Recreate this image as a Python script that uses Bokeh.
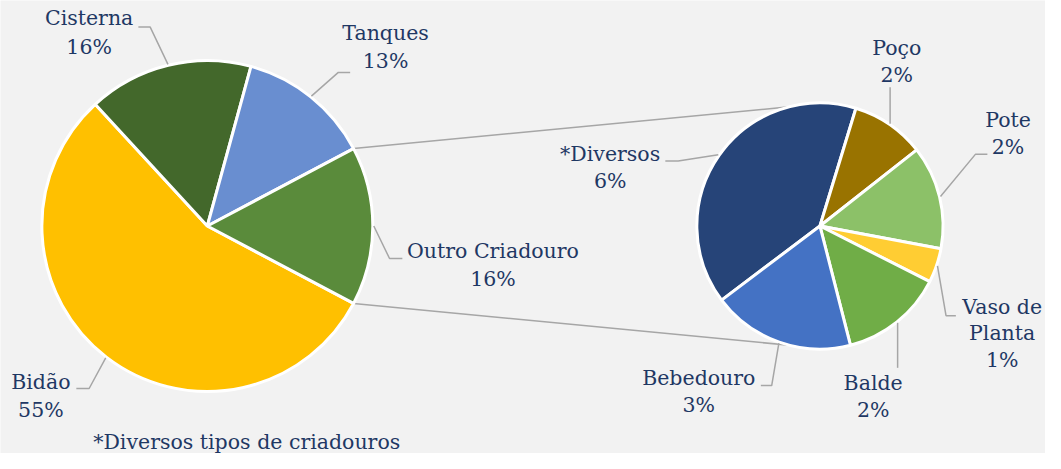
import math
from bokeh.plotting import figure
from bokeh.models import Range1d, ColumnDataSource
from bokeh.embed import file_html
from bokeh.resources import INLINE
from bokeh.core.properties import value

# ---------------- data ----------------
primary_labels = ["Bidão", "Cisterna", "Tanques", "Outro Criadouro"]
primary_values = [55.4, 16.1, 13.0, 15.5]
primary_colors = ["#ffc000", "#43682b", "#698ed0", "#5a8b3b"]

secondary_labels = ["*Diversos", "Poço", "Pote", "Vaso de Planta", "Balde", "Bebedouro"]
secondary_values = [6.2, 1.5, 2.1, 0.7, 2.1, 2.9]
secondary_colors = ["#264478", "#997300", "#8cc168", "#ffcd33", "#70ad47", "#4472c4"]

footnote = "*Diversos tipos de criadouros"

# ---------------- layout (reference pixel coordinates) ----------------
IMG_H = 469
FONT = "DejaVu Serif"
FS = "20.5px"
TXT = "#1f3864"
LEADER = "#a6a6a6"

L_CX, L_CY, L_R = 210, 238, 168
R_CX, R_CY, R_R = 832, 238, 125
R_START = 217.0          # secondary pie first-slice start angle (deg)
CONN_ANG = (104.4, 255.6)  # where connector lines meet the secondary pie

# label layout: text center x, line ys, leader elbow points (None x -> vertical)
label_layout = {
    "Bidão": dict(x=41, ys=[396, 425], pts=[(90, 403), (77, 403)]),
    "Cisterna": dict(x=90, ys=[27, 56], pts=[(152, 36), (140, 36)]),
    "Tanques": dict(x=391, ys=[42, 70], pts=[(343, 82), (355, 82)]),
    "Outro Criadouro": dict(x=500, ys=[263, 292], pts=[(395, 271), (408, 271)]),
    "*Diversos": dict(x=619, ys=[165, 192], pts=[(688, 172), (675, 172)]),
    "Poço": dict(x=910, ys=[57, 85], pts=[(None, 97)]),
    "Pote": dict(x=1023, ys=[130, 158], pts=[(990, 165), (1002, 165)]),
    "Vaso de Planta": dict(x=1017, ys=[320, 347, 374], pts=[(960, 329), (970, 329)],
                           lines=["Vaso de", "Planta"]),
    "Balde": dict(x=886, ys=[397, 425], pts=[(None, 382)]),
    "Bebedouro": dict(x=709, ys=[392, 420], pts=[(783, 400), (772, 400)]),
}
FOOT_X, FOOT_Y = 250, 457


def Y(py):
    return IMG_H - py


def slices(vals, a0):
    tot = sum(vals)
    out, cum = [], 0.0
    for v in vals:
        w = v / tot * 360.0
        out.append((a0 - cum - w, a0 - cum))
        cum += w
    return out


p = figure(width=1045, height=453, x_range=Range1d(0, 1061), y_range=Range1d(0, 460),
           x_axis_type=None, y_axis_type=None, toolbar_location=None,
           output_backend="svg", min_border=0)
p.grid.visible = False
p.outline_line_color = None
p.background_fill_color = "#f2f2f2"
p.border_fill_color = "#f2f2f2"

o_share = primary_values[-1] / sum(primary_values) * 360.0
L_START = -o_share / 2.0
lsl = slices(primary_values, L_START)
rsl = slices(secondary_values, R_START)

# connector lines
for la, ra in zip((o_share / 2.0, -o_share / 2.0), CONN_ANG):
    x0 = L_CX + L_R * math.cos(math.radians(la))
    y0 = Y(L_CY) + L_R * math.sin(math.radians(la))
    x1 = R_CX + R_R * math.cos(math.radians(ra))
    y1 = Y(R_CY) + R_R * math.sin(math.radians(ra))
    p.line([x0, x1], [y0, y1], line_color=LEADER, line_width=1.5)

for (cx, cy, r, sl, colors) in ((L_CX, L_CY, L_R, lsl, primary_colors),
                                (R_CX, R_CY, R_R, rsl, secondary_colors)):
    src = ColumnDataSource(dict(
        s=[math.radians(a) for a, b in sl],
        e=[math.radians(b) for a, b in sl],
        c=colors))
    p.wedge(x=cx, y=Y(cy), radius=r, start_angle="s", end_angle="e",
            fill_color="c", line_color="white", line_width=3, source=src)

# labels + leaders
tx, ty, tt = [], [], []
groups = ((L_CX, L_CY, L_R, lsl, primary_labels, primary_values),
          (R_CX, R_CY, R_R, rsl, secondary_labels, secondary_values))
for cx, cy, r, sl, labels, vals in groups:
    for (a, b), lab, v in zip(sl, labels, vals):
        lay = label_layout[lab]
        mid = math.radians((a + b) / 2.0)
        ex = cx + (r + 1) * math.cos(mid)
        ey = Y(cy) + (r + 1) * math.sin(mid)
        xs, ys = [ex], [ey]
        for px, py in lay["pts"]:
            xs.append(ex if px is None else px)
            ys.append(Y(py))
        p.line(xs, ys, line_color=LEADER, line_width=1.5)
        lines = lay.get("lines", [lab]) + [f"{int(v + 0.5)}%"]
        for t, yy in zip(lines, lay["ys"]):
            tx.append(lay["x"]); ty.append(Y(yy)); tt.append(t)

tx.append(FOOT_X); ty.append(Y(FOOT_Y)); tt.append(footnote)
p.text(x="x", y="y", text="t", source=ColumnDataSource(dict(x=tx, y=ty, t=tt)),
       text_align="center", text_baseline="middle", text_color=TXT,
       text_font=value(FONT), text_font_size=FS)

html = file_html(p, INLINE)
html = html.replace("<body>", '<body style="background-color:#f2f2f2;">', 1)
open("out.html", "w").write(html)
